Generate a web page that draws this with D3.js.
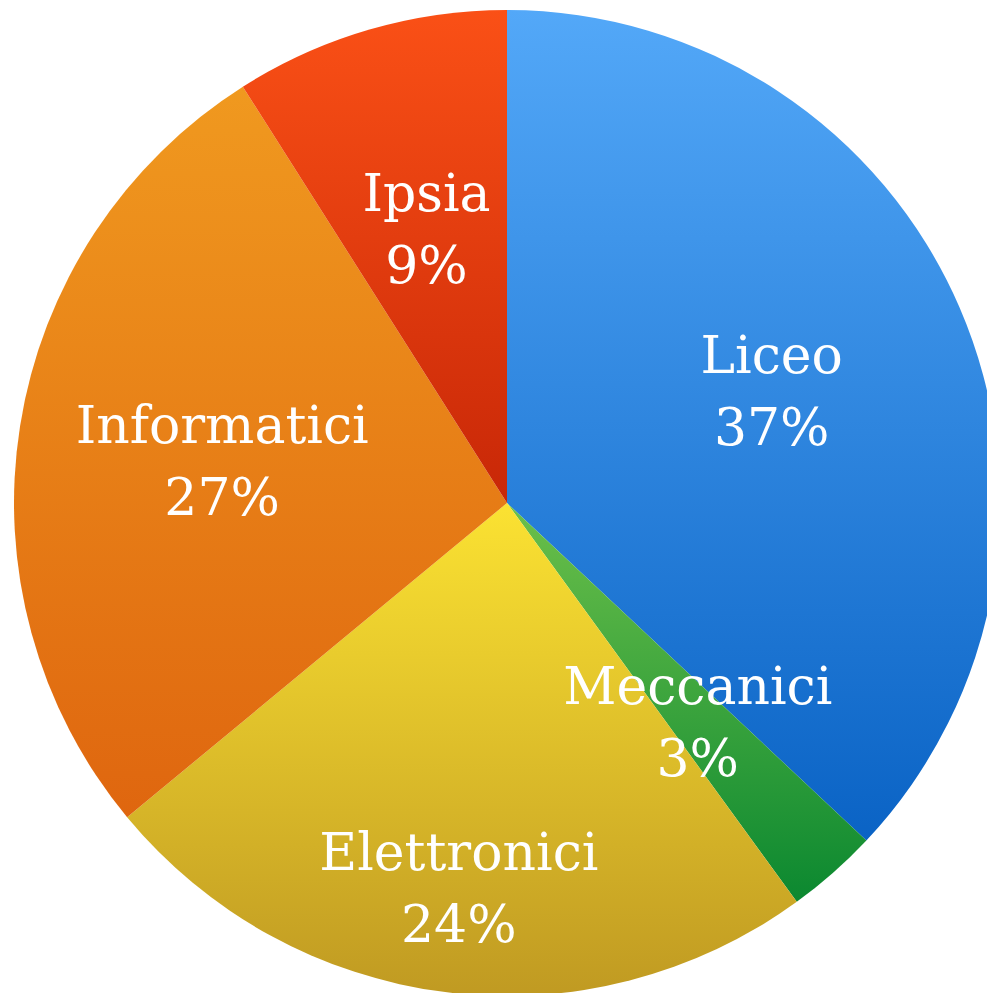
<!DOCTYPE html>
<html>
<head>
<meta charset="utf-8">
<script src="https://cdn.jsdelivr.net/npm/d3@7"></script>
<style>
  html, body { margin: 0; padding: 0; background: #ffffff; }
  svg { display: block; }
</style>
</head>
<body>
<svg id="chart" width="987" height="993"></svg>
<script>
// ---- data ----
const categories = ["Liceo", "Meccanici", "Elettronici", "Informatici", "Ipsia"];
const percentages = [37, 3, 24, 27, 9];
const percentLabels = ["37%", "3%", "24%", "27%", "9%"];

// ---- style ----
const colorTop = ["#53a8f8", "#6cc04a", "#fbe232", "#f0991f", "#fa5016"];
const colorBottom = ["#0a63c5", "#0b8830", "#c09a22", "#df660f", "#c82707"];
const labelRadiusFactor = [0.585, 0.585, 0.78, 0.585, 0.585];

const width = 987, height = 993;
const cx = 507, cy = 503, R = 493;

const svg = d3.select("#chart");
const defs = svg.append("defs");

categories.forEach((c, i) => {
  const g = defs.append("linearGradient")
    .attr("id", "grad" + i)
    .attr("x1", 0).attr("y1", 0).attr("x2", 0).attr("y2", 1);
  g.append("stop").attr("offset", "0%").attr("stop-color", colorTop[i]);
  g.append("stop").attr("offset", "100%").attr("stop-color", colorBottom[i]);
});

const data = categories.map((c, i) => ({ name: c, value: percentages[i], label: percentLabels[i], i }));

const pie = d3.pie().value(d => d.value).sort(null);
const arcs = pie(data);
const arc = d3.arc().innerRadius(0).outerRadius(R);

const root = svg.append("g").attr("transform", `translate(${cx},${cy})`);

root.selectAll("path.slice")
  .data(arcs)
  .join("path")
  .attr("class", "slice")
  .attr("d", arc)
  .attr("fill", d => `url(#grad${d.data.i})`);

const labels = root.selectAll("g.label")
  .data(arcs)
  .join("g")
  .attr("class", "label")
  .attr("transform", d => {
    const r = R * labelRadiusFactor[d.data.i];
    const a = (d.startAngle + d.endAngle) / 2;
    return `translate(${Math.sin(a) * r},${-Math.cos(a) * r})`;
  });

labels.append("text")
  .attr("text-anchor", "middle")
  .attr("y", -15)
  .attr("fill", "#ffffff")
  .attr("font-family", "'DejaVu Serif', serif")
  .attr("font-size", 52)
  .text(d => d.data.name);

labels.append("text")
  .attr("text-anchor", "middle")
  .attr("y", 57)
  .attr("fill", "#ffffff")
  .attr("font-family", "'DejaVu Serif', serif")
  .attr("font-size", 52)
  .text(d => d.data.label);
</script>
</body>
</html>
